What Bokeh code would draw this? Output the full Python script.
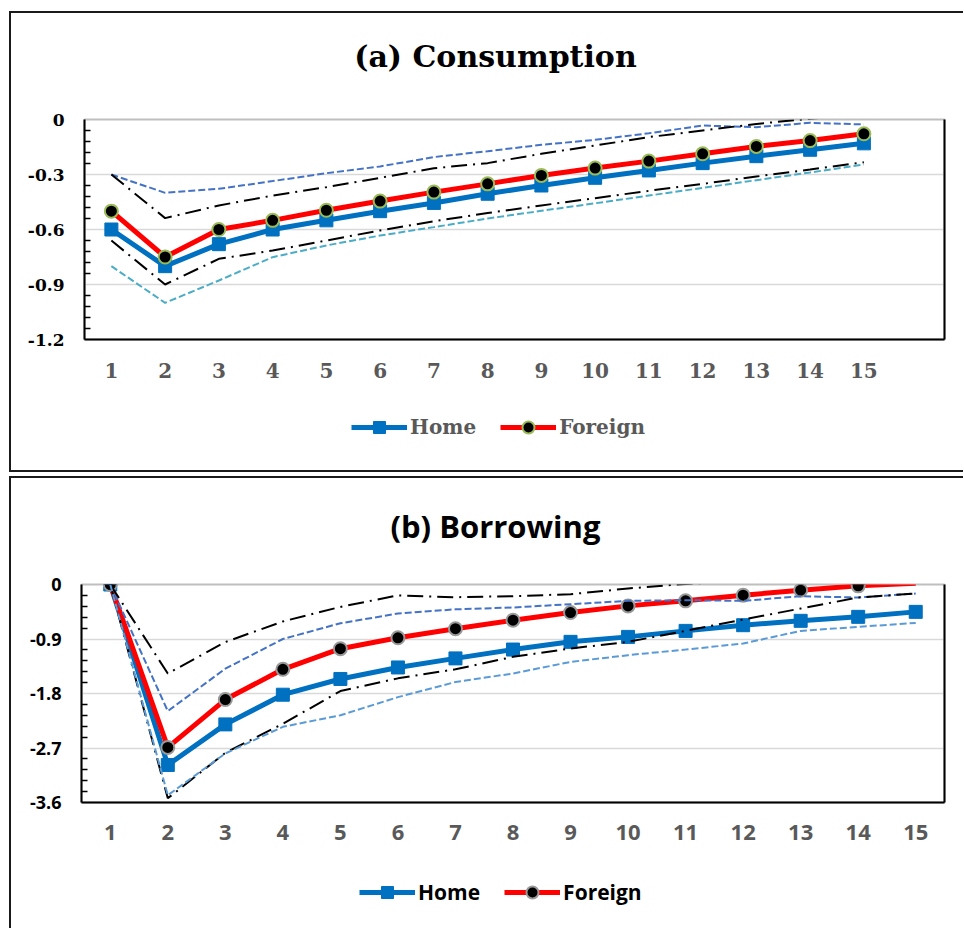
import numpy as np
from bokeh.plotting import figure
from bokeh.models import (Range1d, FixedTicker, LinearAxis, Label, Legend, LegendItem,
                          ColumnDataSource, CDSView, BooleanFilter)
from bokeh.layouts import column
from bokeh.embed import file_html
from bokeh.resources import INLINE

# ---------------- data ----------------
periods = list(range(1, 16))

# (a) Consumption
cons_home = [-0.60, -0.80, -0.68, -0.60, -0.55, -0.50, -0.455, -0.405, -0.36, -0.318,
             -0.278, -0.238, -0.20, -0.165, -0.13]
cons_foreign = [-0.50, -0.75, -0.60, -0.55, -0.495, -0.445, -0.396, -0.351, -0.305, -0.265,
                -0.227, -0.187, -0.147, -0.115, -0.078]
cons_upper_dash = [-0.30, -0.40, -0.378, -0.336, -0.293, -0.256, -0.205, -0.173, -0.138, -0.111,
                   -0.075, -0.033, -0.042, -0.018, -0.027]
cons_upper_dashdot = [-0.30, -0.538, -0.469, -0.415, -0.369, -0.318, -0.266, -0.238, -0.187, -0.142,
                      -0.096, -0.060, -0.024, 0.004, 0.03]
cons_lower_dashdot = [-0.66, -0.90, -0.76, -0.715, -0.66, -0.605, -0.555, -0.51, -0.469, -0.429,
                      -0.389, -0.351, -0.311, -0.273, -0.233]
cons_lower_dash = [-0.80, -1.00, -0.878, -0.751, -0.687, -0.633, -0.587, -0.54, -0.498, -0.457,
                   -0.415, -0.373, -0.331, -0.289, -0.245]
cons_yticks = [0, -0.3, -0.6, -0.9, -1.2]

# (b) Borrowing
borr_home = [0.0, -2.98, -2.31, -1.82, -1.56, -1.37, -1.22, -1.074, -0.947, -0.865,
             -0.766, -0.672, -0.60, -0.534, -0.452]
borr_foreign = [0.0, -2.69, -1.90, -1.40, -1.06, -0.88, -0.73, -0.59, -0.463, -0.353,
                -0.27, -0.177, -0.094, -0.022, 0.02]
borr_upper_dash = [0.0, -2.09, -1.39, -0.90, -0.64, -0.48, -0.41, -0.38, -0.325, -0.27,
                   -0.259, -0.27, -0.193, -0.215, -0.149]
borr_upper_dashdot = [0.0, -1.47, -0.95, -0.61, -0.37, -0.18, -0.21, -0.193, -0.16, -0.066,
                      0.01, 0.05, 0.08, 0.10, 0.12]
borr_lower_dashdot = [0.0, -3.53, -2.78, -2.30, -1.76, -1.55, -1.40, -1.195, -1.057, -0.947,
                      -0.766, -0.578, -0.397, -0.215, -0.149]
borr_lower_dash = [0.0, -3.48, -2.79, -2.35, -2.16, -1.86, -1.61, -1.47, -1.278, -1.167,
                   -1.074, -0.975, -0.766, -0.70, -0.634]
borr_yticks = [0, -0.9, -1.8, -2.7, -3.6]

HOME_BLUE = "#0070C0"
FOREIGN_RED = "#FF0000"
EDGE = "2px solid #1a1a1a"
PANEL_W = 954          # outer width of each boxed panel (left border included)
RIGHT_GAP = 21         # space right of the plot area


def minor_between(ticks, n=5):
    t = sorted(ticks)
    out = []
    for a, b in zip(t[:-1], t[1:]):
        out.extend(np.linspace(a, b, n + 1)[1:-1].tolist())
    return out


def blank_fig(height, styles, frame_w):
    """Figure without axes; inside a column its plot area lines up with the chart's."""
    f = figure(width=PANEL_W, height=height, output_backend="svg", toolbar_location=None,
               x_axis_type=None, y_axis_type=None, min_border=0,
               x_range=Range1d(0, frame_w), y_range=Range1d(0, height - 2))
    f.outline_line_color = None
    f.grid.visible = False
    f.styles = styles
    return f


def heading(text, font, size, height, styles, frame_w, cx, cy):
    f = blank_fig(height, styles, frame_w)
    f.add_layout(Label(x=cx, y=cy, text=text, text_font=font, text_font_style="bold",
                       text_font_size=size, text_color="black",
                       text_align="center", text_baseline="middle"))
    return f


def key(home, foreign, font, size, color, marker_edge, height, styles, frame_w, kx, ky):
    f = blank_fig(height, styles, frame_w)
    # hidden copies of the two series: they only lend their styles to the key
    hl = f.line(periods, home, line_color=HOME_BLUE, line_width=5, visible=False)
    hs = f.scatter(periods, home, marker="square", size=13, fill_color=HOME_BLUE,
                   line_color=HOME_BLUE, visible=False)
    fl = f.line(periods, foreign, line_color=FOREIGN_RED, line_width=5, visible=False)
    fs = f.scatter(periods, foreign, marker="circle", size=13, fill_color="black",
                   line_color=marker_edge, line_width=2, visible=False)
    legend = Legend(items=[LegendItem(label="Home", renderers=[hl, hs]),
                           LegendItem(label="Foreign", renderers=[fl, fs])],
                    orientation="horizontal", location=(kx, ky),
                    glyph_width=56, glyph_height=30, label_standoff=3, spacing=24,
                    padding=0, margin=0, border_line_color=None, background_fill_alpha=0,
                    label_text_font=font, label_text_font_style="bold",
                    label_text_font_size=size, label_text_color=color)
    f.add_layout(legend)
    return f


def chart(home, foreign, up_dash, up_dd, lo_dash, lo_dd, yticks, x_end, font,
          xlab_size, xlab_standoff, ylab_size, marker_edge, up_color, lo_color,
          height, frame_left):
    p = figure(width=PANEL_W, height=height, output_backend="svg", toolbar_location=None,
               x_range=Range1d(0.5, x_end), y_range=Range1d(min(yticks), 0),
               min_border_left=frame_left, min_border_right=RIGHT_GAP,
               min_border_top=16, min_border_bottom=56)
    # grey frame; the black axes cover its left, bottom and right sides
    p.outline_line_color = "#bfbfbf"
    p.outline_line_width = 2
    p.xgrid.grid_line_color = None
    p.ygrid.ticker = FixedTicker(ticks=yticks)
    p.ygrid.grid_line_color = "#d9d9d9"
    p.ygrid.grid_line_width = 1.5

    ya = p.yaxis[0]
    ya.ticker = FixedTicker(ticks=yticks, minor_ticks=minor_between(yticks))
    ya.axis_line_color = "black"
    ya.axis_line_width = 2
    ya.major_tick_in = 0
    ya.major_tick_out = 0
    ya.minor_tick_in = 6
    ya.minor_tick_out = 0
    ya.minor_tick_line_color = "black"
    ya.minor_tick_line_width = 1.5
    ya.major_label_text_font = font
    ya.major_label_text_font_style = "bold"
    ya.major_label_text_font_size = ylab_size
    ya.major_label_text_color = "black"
    ya.major_label_standoff = 20
    ya.major_label_overrides = {t: ("0" if t == 0 else f"{t:g}") for t in yticks}

    xa = p.xaxis[0]
    xa.ticker = FixedTicker(ticks=periods)
    xa.axis_line_color = "black"
    xa.axis_line_width = 2
    xa.major_tick_in = 0
    xa.major_tick_out = 0
    xa.minor_tick_line_color = None
    xa.major_label_text_font = font
    xa.major_label_text_font_style = "bold"
    xa.major_label_text_font_size = xlab_size
    xa.major_label_text_color = "#595959"
    xa.major_label_standoff = xlab_standoff

    right = LinearAxis(ticker=FixedTicker(ticks=[]), axis_line_color="black", axis_line_width=2,
                       major_tick_line_color=None, minor_tick_line_color=None,
                       major_label_text_font_size="0px")
    p.add_layout(right, "right")

    # central estimates
    p.line(periods, home, line_color=HOME_BLUE, line_width=5)
    p.scatter(periods, home, marker="square", size=13, fill_color=HOME_BLUE,
              line_color=HOME_BLUE)
    p.line(periods, foreign, line_color=FOREIGN_RED, line_width=5)
    fsrc = ColumnDataSource(dict(x=periods, y=foreign))
    inside = BooleanFilter([v <= 0 for v in foreign])
    p.scatter("x", "y", source=fsrc, view=CDSView(filter=inside), marker="circle",
              size=13, fill_color="black", line_color=marker_edge, line_width=2)

    # confidence bands
    p.line(periods, up_dash, line_color=up_color, line_width=2, line_dash="7 3")
    p.line(periods, up_dd, line_color="black", line_width=2, line_dash="16 6 2 6")
    p.line(periods, lo_dd, line_color="black", line_width=2, line_dash="16 6 2 6")
    p.line(periods, lo_dash, line_color=lo_color, line_width=2, line_dash="7 3")

    p.styles = {"border-left": EDGE}
    return p


# ---------------- panel (a) ----------------
A_LEFT = 73
a_fw = PANEL_W - 2 - A_LEFT - RIGHT_GAP
a_head = heading("(a) Consumption", "DejaVu Serif", "30px", 92,
                 {"border-top": EDGE, "border-left": EDGE}, a_fw, 410, 48)
a_chart = chart(cons_home, cons_foreign, cons_upper_dash, cons_upper_dashdot,
                cons_lower_dash, cons_lower_dashdot, cons_yticks, 16.5, "DejaVu Serif",
                "20px", 23, "17px", "#9BBB59", "#4472C4", "#4BACC6", 292, A_LEFT)
a_key = key(cons_home, cons_foreign, "DejaVu Serif", "20px", "#595959", "#9BBB59", 77,
            {"border-left": EDGE, "border-bottom": EDGE}, a_fw, 267, 30)
panel_a = column(a_head, a_chart, a_key, spacing=0)
panel_a.margin = (11, 0, 0, 9)

# ---------------- panel (b) ----------------
B_LEFT = 70
b_fw = PANEL_W - 2 - B_LEFT - RIGHT_GAP
b_head = heading("(b) Borrowing", "Open Sans", "31px", 92,
                 {"border-top": EDGE, "border-left": EDGE}, b_fw, 413, 44)
b_chart = chart(borr_home, borr_foreign, borr_upper_dash, borr_upper_dashdot,
                borr_lower_dash, borr_lower_dashdot, borr_yticks, 15.5, "Open Sans",
                "22px", 22, "18px", "#999999", "#4472C4", "#5B9BD5", 290, B_LEFT)
b_key = key(borr_home, borr_foreign, "Open Sans", "21px", "black", "#999999", 70,
            {"border-left": EDGE}, b_fw, 278, 21)
panel_b = column(b_head, b_chart, b_key, spacing=0)
panel_b.margin = (4, 0, 0, 9)

layout = column(panel_a, panel_b, spacing=0)
open("out.html", "w").write(file_html(layout, INLINE))
